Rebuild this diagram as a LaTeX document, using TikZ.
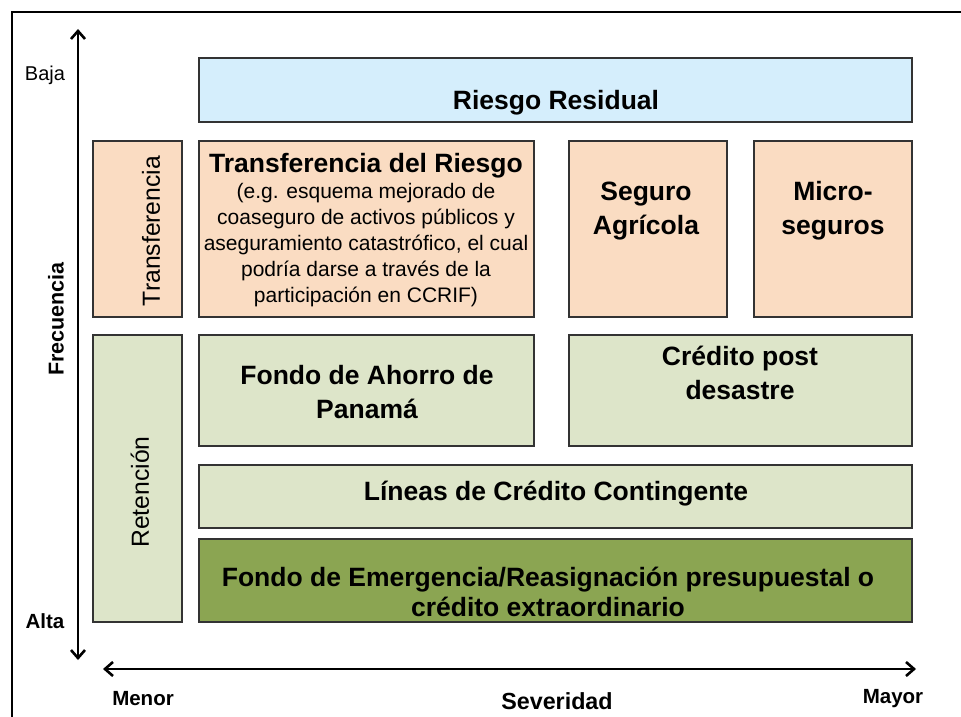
\documentclass[tikz,border=0pt]{standalone}
\usepackage{fontspec}
\setmainfont{Liberation Sans}
\usetikzlibrary{calc,arrows.meta}
\usepackage{xcolor}

\definecolor{residual}{HTML}{D5EEFC}
\definecolor{durazno}{HTML}{FADCC2}
\definecolor{verdeclaro}{HTML}{DDE5C9}
\definecolor{verdeoscuro}{HTML}{8BA552}
\definecolor{borde}{HTML}{333333}

\tikzset{
  caja/.style={draw=borde, line width=1.3pt},
  titulo/.style={font=\fontsize{26.5}{34}\selectfont\bfseries, align=center},
  detalle/.style={font=\fontsize{21}{25.8}\selectfont, align=center},
  eje/.style={font=\fontsize{20.5}{24}\selectfont\bfseries},
  flecha/.style={{Straight Barb[length=8pt,width=14pt]}-{Straight Barb[length=8pt,width=14pt]}, line width=2.6pt}
}

\begin{document}
\begin{tikzpicture}[x=1pt,y=-1pt]
\useasboundingbox (0,0) rectangle (961,717);

% marco
\draw[line width=1.3pt] (12,717) -- (12,12) -- (961,12);

% ejes
\coordinate (fa) at (78,29);
\coordinate (fb) at (78,660);
\coordinate (sa) at (103,669);
\coordinate (sb) at (916,669);
\draw [flecha](fa)--(fb);
\draw [flecha](sa)--(sb);

\node[font=\fontsize{20}{24}\selectfont] (baja) at (45,75) {Baja};
\node[eje] (alta) at (45,621) {Alta};
\node[eje, font=\fontsize{21.5}{24}\selectfont\bfseries, rotate=90] (frecuencia) at (56,319) {Frecuencia};
\node[eje] (menor) at (143,699) {Menor};
\node[eje] (mayor) at (893,699) {Mayor};
\node[eje, font=\fontsize{23.3}{26}\selectfont\bfseries] (severidad) at (557,701) {Severidad};

% fila superior
\filldraw[caja, fill=residual] (199,58) rectangle (912,122);
\node[titulo] (residualtxt) at (556,103) {Riesgo Residual};

% transferencia
\filldraw[caja, fill=durazno] (93,141) rectangle (182,317);
\filldraw[caja, fill=durazno] (199,141) rectangle (534,317);
\filldraw[caja, fill=durazno] (569,141) rectangle (727,317);
\filldraw[caja, fill=durazno] (754,141) rectangle (912,317);
\node[detalle, font=\fontsize{24.7}{28}\selectfont, rotate=90] (transferencia) at (151,231) {Transferencia};
\node[titulo] (trtitulo) at (366,166) {Transferencia del Riesgo};
\node[detalle] (trdetalle) at (366,245) {(e.g. esquema mejorado de\\coaseguro de activos públicos y\\aseguramiento catastrófico, el cual\\podría darse a través de la\\participación en CCRIF)};
\node[titulo] (agricola) at (646,211) {Seguro\\Agrícola};
\node[titulo] (micro) at (833,211) {Micro-\\seguros};

% retencion
\filldraw[caja, fill=verdeclaro] (93,335) rectangle (182,622);
\filldraw[caja, fill=verdeclaro] (199,335) rectangle (534,446);
\filldraw[caja, fill=verdeclaro] (569,335) rectangle (912,446);
\filldraw[caja, fill=verdeclaro] (199,465) rectangle (912,528);
\filldraw[caja, fill=verdeoscuro] (199,539) rectangle (912,622);
\node[detalle, font=\fontsize{24.7}{28}\selectfont, rotate=90] (retencion) at (140,492) {Retención};
\node[titulo] (ahorro) at (367,392) {Fondo de Ahorro de\\Panamá};
\node[titulo] (postdesastre) at (740,373) {Crédito post\\desastre};
\node[titulo] (contingente) at (556,494) {Líneas de Crédito Contingente};
\node[titulo, font=\fontsize{26.5}{30}\selectfont\bfseries] (emergencia) at (548,592) {Fondo de Emergencia/Reasignación presupuestal o\\crédito extraordinario};
\end{tikzpicture}
\end{document}
